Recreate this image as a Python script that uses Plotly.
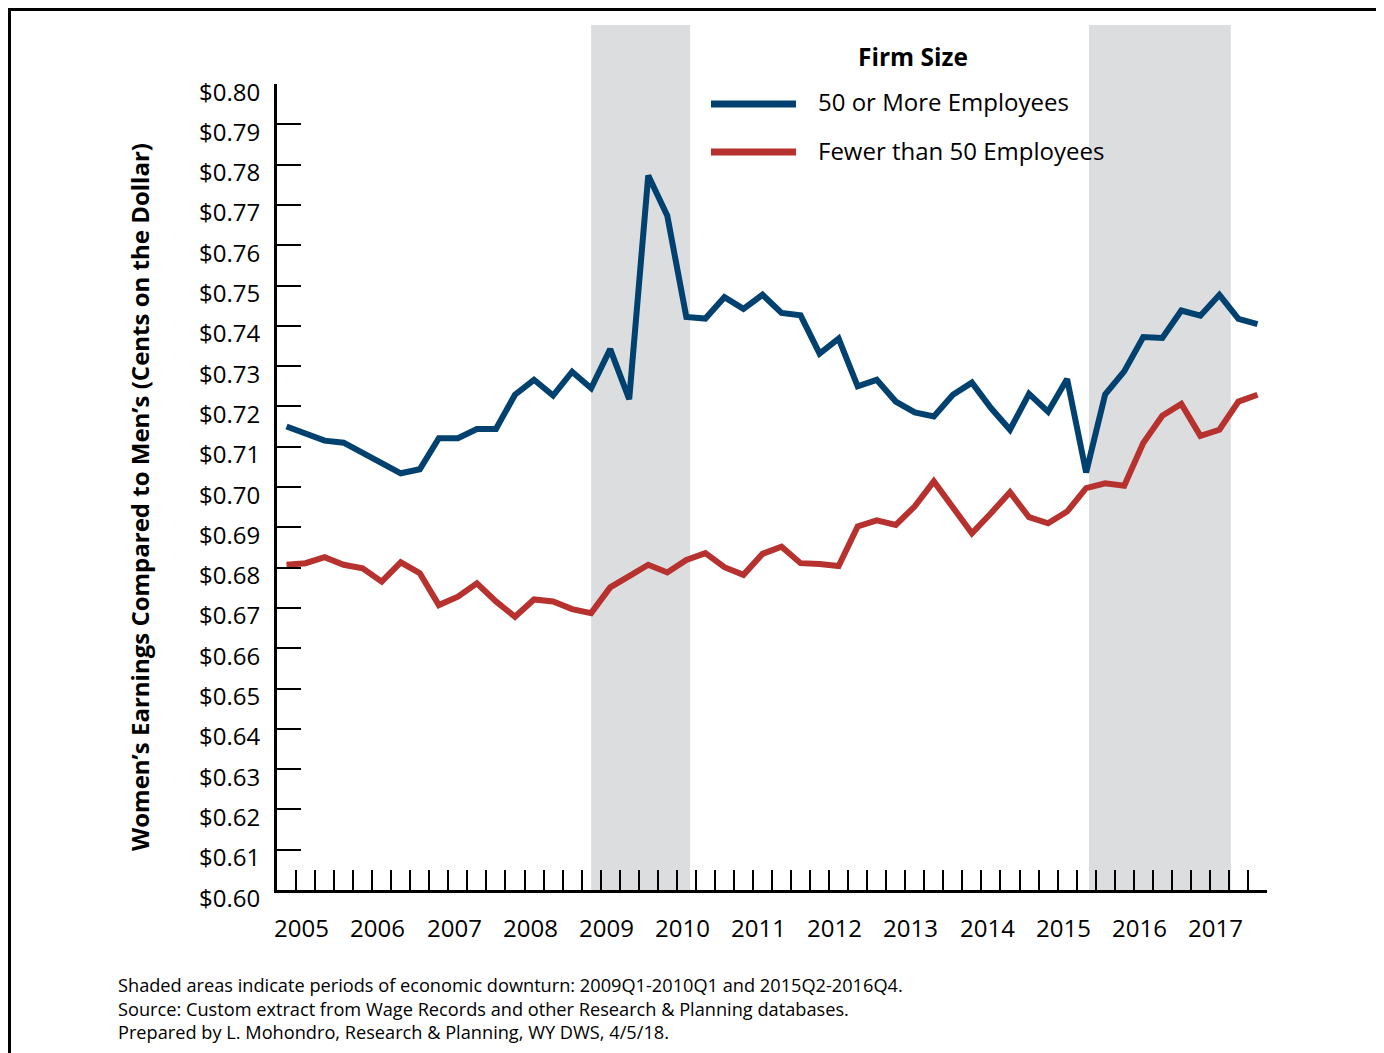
import plotly.graph_objects as go

# ---------------- data ----------------
years = list(range(2005, 2018))
quarters = [f"{y}Q{q}" for y in years for q in range(1, 5)]

large_firms = [
    0.7150, 0.7134, 0.7115, 0.7110, 0.7086, 0.7062, 0.7034, 0.7044,
    0.7121, 0.7121, 0.7144, 0.7144, 0.7229, 0.7266, 0.7227, 0.7286,
    0.7245, 0.7342, 0.7218, 0.7773, 0.7673, 0.7422, 0.7418, 0.7471,
    0.7442, 0.7477, 0.7432, 0.7426, 0.7331, 0.7368, 0.7250, 0.7266,
    0.7212, 0.7185, 0.7175, 0.7229, 0.7259, 0.7196, 0.7142, 0.7231,
    0.7187, 0.7268, 0.7036, 0.7230, 0.7287, 0.7372, 0.7370, 0.7438,
    0.7425, 0.7477, 0.7417, 0.7404,
]
small_firms = [
    0.6807, 0.6811, 0.6826, 0.6807, 0.6798, 0.6765, 0.6813, 0.6786,
    0.6707, 0.6728, 0.6761, 0.6716, 0.6678, 0.6721, 0.6716, 0.6697,
    0.6687, 0.6751, 0.6779, 0.6807, 0.6788, 0.6819, 0.6836, 0.6801,
    0.6782, 0.6834, 0.6852, 0.6811, 0.6809, 0.6804, 0.6902, 0.6917,
    0.6906, 0.6952, 0.7014, 0.6947, 0.6885, 0.6935, 0.6987, 0.6925,
    0.6910, 0.6939, 0.6997, 0.7009, 0.7003, 0.7109, 0.7177, 0.7206,
    0.7127, 0.7142, 0.7212, 0.7229,
]
series_names = ["50 or More Employees", "Fewer than 50 Employees"]
y_tick_values = [round(0.60 + 0.01 * i, 2) for i in range(21)]
y_tick_labels = [f"${v:.2f}" for v in y_tick_values]
# shaded downturn bands, in quarter-index units as drawn
downturn_bands = [(16.0, 21.2), (42.15, 49.6)]

footer_lines = [
    "Shaded areas indicate periods of economic downturn: 2009Q1-2010Q1 and 2015Q2-2016Q4.",
    "Source: Custom extract from Wage Records and other Research &amp; Planning databases.",
    "Prepared by L. Mohondro, Research &amp; Planning, WY DWS, 4/5/18.",
]

# ---------------- style ----------------
BLUE = "#00416f"
RED = "#b7312e"
GRAY = "#dcdddf"
FONT = "Open Sans"
OFF = 8  # page body margin
W, H = 1376, 1045
ML, MR, MT, MB = 269, 117, 76, 163
PW, PH = W - ML - MR, H - MT - MB


def px_x(px):
    """page pixel x -> paper x"""
    return (px - OFF - ML) / PW


def px_y(py):
    """page pixel y -> paper y"""
    return (H - MB - (py - OFF)) / PH


x_idx = list(range(len(quarters)))

fig = go.Figure()
for vals, color, name in [(large_firms, BLUE, series_names[0]), (small_firms, RED, series_names[1])]:
    fig.add_trace(go.Scatter(
        x=x_idx, y=vals, mode="lines", name=name,
        line=dict(color=color, width=6),
        text=quarters, hovertemplate="%{text}: %{y:$.3f}<extra>" + name + "</extra>",
        showlegend=False,
    ))

shapes = []
for x0, x1 in downturn_bands:
    shapes.append(dict(type="rect", xref="x", yref="paper", x0=x0, x1=x1,
                       y0=-0.003, y1=px_y(25), fillcolor=GRAY, line=dict(width=0),
                       layer="below"))
# legend swatches
for py, color in [(104, BLUE), (152, RED)]:
    shapes.append(dict(type="line", xref="paper", yref="paper",
                       x0=px_x(711), x1=px_x(796), y0=px_y(py), y1=px_y(py),
                       line=dict(color=color, width=7)))
# outer frame
shapes.append(dict(type="rect", xref="paper", yref="paper",
                   x0=px_x(9.5), x1=px_x(1381.5), y0=px_y(1070), y1=px_y(9.5),
                   line=dict(color="black", width=3), fillcolor="rgba(0,0,0,0)"))

annotations = []
# y tick labels
for v, lab in zip(y_tick_values, y_tick_labels):
    annotations.append(dict(x=0, xref="paper", y=v, yref="y", text=lab,
                            xanchor="right", yanchor="middle", xshift=-15, yshift=-7,
                            showarrow=False, font=dict(family=FONT, size=24, color="black")))
# year labels
for k, yr in enumerate(years):
    annotations.append(dict(x=4 * k + 0.8, xref="x", y=px_y(927), yref="paper",
                            text=str(yr), xanchor="center", yanchor="middle",
                            showarrow=False, font=dict(family=FONT, size=24, color="black")))
# y-axis title
annotations.append(dict(x=px_x(139), xref="paper", y=px_y(497), yref="paper",
                        text="<b>Women\u2019s Earnings Compared to Men\u2019s (Cents on the Dollar)</b>",
                        textangle=-90, xanchor="center", yanchor="middle", showarrow=False,
                        font=dict(family=FONT, size=24, color="black")))
# legend
annotations.append(dict(x=px_x(913), xref="paper", y=px_y(57), yref="paper",
                        text="<b>Firm Size</b>", xanchor="center", yanchor="middle",
                        showarrow=False, font=dict(family=FONT, size=24.5, color="black")))
for py, name in [(102, series_names[0]), (150, series_names[1])]:
    annotations.append(dict(x=px_x(816), xref="paper", y=px_y(py), yref="paper",
                            text=name, xanchor="left", yanchor="middle",
                            showarrow=False, font=dict(family=FONT, size=24, color="black")))
# footer (one block of three lines)
annotations.append(dict(x=px_x(116), xref="paper", y=px_y(1008), yref="paper",
                        text="<br>".join(footer_lines), xanchor="left", yanchor="middle",
                        align="left", showarrow=False,
                        font=dict(family=FONT, size=18.2, color="black")))

fig.update_layout(
    width=W, height=H,
    margin=dict(l=ML, r=MR, t=MT, b=MB, pad=0),
    paper_bgcolor="white", plot_bgcolor="rgba(0,0,0,0)",
    font=dict(family=FONT, color="black"),
    shapes=shapes, annotations=annotations,
    xaxis=dict(range=[-0.5, len(quarters) - 0.5], showgrid=False, zeroline=False,
               showline=True, linecolor="black", linewidth=2.5,
               tickmode="array", tickvals=[i + 0.5 for i in x_idx],
               ticks="inside", ticklen=20, tickwidth=2, tickcolor="black",
               showticklabels=False),
    yaxis=dict(range=[0.60, 0.80], showgrid=False, zeroline=False,
               showline=True, linecolor="black", linewidth=2.5,
               tickmode="array", tickvals=y_tick_values,
               ticks="inside", ticklen=24, tickwidth=2, tickcolor="black",
               showticklabels=False),
    showlegend=False,
)

fig.write_html("out.html")
